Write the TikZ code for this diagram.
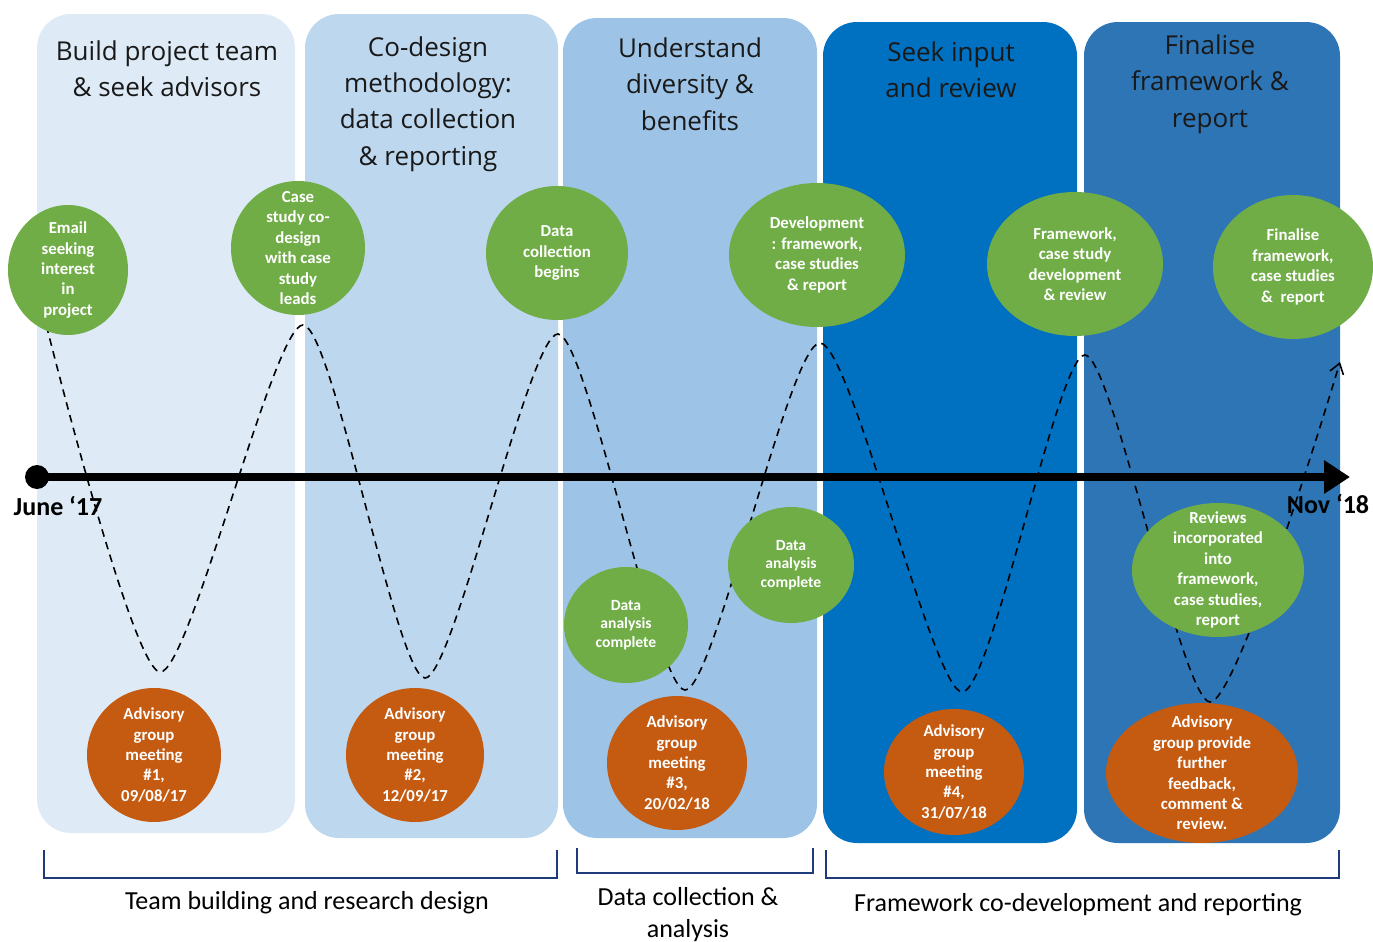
\documentclass[tikz,border=0pt]{standalone}
\usepackage{fontspec}
\setmainfont{Carlito}
\newfontfamily\headfont{Open Sans}
\usetikzlibrary{
    arrows.meta,
    shapes.geometric
}

\definecolor{phaseA}{HTML}{DEEBF7}
\definecolor{phaseB}{HTML}{BDD7EE}
\definecolor{phaseC}{HTML}{9DC3E6}
\definecolor{phaseD}{HTML}{0070C0}
\definecolor{phaseE}{HTML}{2E75B6}
\definecolor{evgreen}{HTML}{70AD47}
\definecolor{mtorange}{HTML}{C55A11}
\definecolor{navy}{HTML}{1F3A78}

\begin{document}
\begin{tikzpicture}[x=0.5pt,y=-0.5pt,
    phase/.style={rounded corners=17pt},
    heading/.style={font=\headfont\fontsize{13}{18.2}\selectfont, align=center, text=black!90},
    event/.style={ellipse, fill=evgreen, text=white, align=center, inner sep=-14pt,
        font=\bfseries\fontsize{8.4}{10.2}\selectfont},
    meeting/.style={event, fill=mtorange},
    wave/.style={dash pattern=on 3.8pt off 2.8pt, line width=0.8pt},
    bracket/.style={navy, line width=1.2pt},
    phaselabel/.style={font=\fontsize{13}{16}\selectfont, align=center}]

\useasboundingbox (0,0) rectangle (1373,942);

% Phases
\fill[phaseA, phase] (37,14) rectangle (295,833);
\fill[phaseB, phase] (305,14) rectangle (558,838);
\fill[phaseC, phase] (563,18) rectangle (817,838);
\fill[phaseD, phase] (823,22) rectangle (1077,843);
\fill[phaseE, phase] (1084,22) rectangle (1340,843);

\node[heading] (build) at (167,69) {Build project team\\\& seek advisors};
\node[heading] (codesign) at (428,104) {Co-design\\methodology:\\data collection\\\& reporting};
\node[heading] (understand) at (690,84) {Understand\\diversity \&\\benefits};
\node[heading] (seek) at (951,70) {Seek input\\and review};
\node[heading] (finalise) at (1210,84) {Finalise\\framework \&\\report};

% Wave
\draw[wave, -{Straight Barb[length=5pt, width=7pt]}] plot[smooth, tension=0.4] coordinates {
    (40,300) (160,672) (303,325) (425,678) (558,334) (685,690)
    (820,343) (962,692) (1085,355) (1210,702) (1340,362)};

% Timeline
\node[circle, fill=black, minimum size=12pt, inner sep=0pt] (start) at (37,477) {};
\coordinate (stop) at (1350,477);
\draw[line width=4pt, -{Triangle[length=13pt, width=16pt]}] (start.center) -- (stop);
\node[font=\bfseries\fontsize{13}{15}\selectfont] (june) at (58,506) {June ‘17};
\node[font=\bfseries\fontsize{13}{15}\selectfont] (nov) at (1328,504) {Nov ‘18};

% Milestones
\node[event, minimum width=60pt, minimum height=65pt] (email) at (68,270) {Email\\seeking\\interest\\in\\project};
\node[event, minimum width=67pt, minimum height=67pt] (casestudy) at (298,248) {Case\\study co-\\design\\with case\\study\\leads};
\node[event, minimum width=71pt, minimum height=67pt] (collect) at (557,253) {Data\\collection\\begins};
\node[event, minimum width=88pt, minimum height=72pt] (develop) at (817,255) {Development\\: framework,\\case studies\\\& report};
\node[event, minimum width=88pt, minimum height=72pt] (review) at (1075,264) {Framework,\\case study\\development\\\& review};
\node[event, minimum width=80pt, minimum height=72pt] (final) at (1293,267) {Finalise\\framework,\\case studies\\\&~ report};
\node[event, minimum width=62pt, minimum height=58pt, font=\bfseries\fontsize{7.8}{9.3}\selectfont] (analysisA) at (626,625) {Data\\analysis\\complete};
\node[event, minimum width=63pt, minimum height=58pt, font=\bfseries\fontsize{7.8}{9.3}\selectfont] (analysisB) at (791,565) {Data\\analysis\\complete};
\node[event, minimum width=86pt, minimum height=67pt] (reviews) at (1218,570) {Reviews\\incorporated\\into\\framework,\\case studies,\\report};

% Advisory group meetings
\node[meeting, minimum width=67pt, minimum height=67pt] (agm1) at (154,755) {Advisory\\group\\meeting\\\#1,\\09/08/17};
\node[meeting, minimum width=69pt, minimum height=67pt] (agm2) at (415,755) {Advisory\\group\\meeting\\\#2,\\12/09/17};
\node[meeting, minimum width=70pt, minimum height=67pt] (agm3) at (677,763) {Advisory\\group\\meeting\\\#3,\\20/02/18};
\node[meeting, minimum width=70pt, minimum height=63pt] (agm4) at (954,772) {Advisory\\group\\meeting\\\#4,\\31/07/18};
\node[meeting, minimum width=96pt, minimum height=70pt] (agm5) at (1202,773) {Advisory\\group provide\\further\\feedback,\\comment \&\\review.};

% Stages
\draw[bracket] (44,850) |- (557,878) -- (557,850);
\draw[bracket] (577,848) |- (813,873) -- (813,848);
\draw[bracket] (826,850) |- (1339,878) -- (1339,850);

\node[phaselabel] (team) at (307,903) {Team building and research design};
\node[phaselabel] (data) at (688,915) {Data collection \&\\analysis};
\node[phaselabel] (frame) at (1078,905) {Framework co-development and reporting};

\end{tikzpicture}
\end{document}
